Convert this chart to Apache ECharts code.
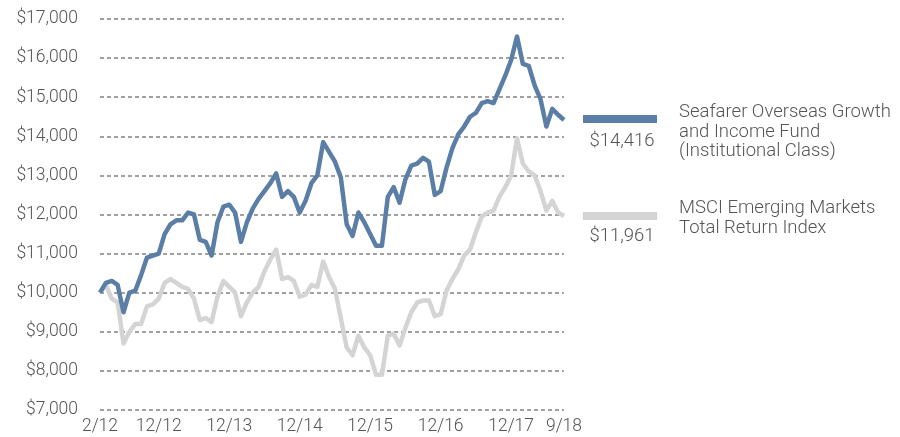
<!DOCTYPE html>
<html lang="en">
<head>
	<meta charset="UTF-8">
	<title>Growth of $10,000</title>
	<script src="https://cdn.jsdelivr.net/npm/echarts@6/dist/echarts.min.js"></script>
	<style>
		body{margin:0;background:#fff;}
	</style>
</head>
<body>
	<div id="app" style="width: 900px;height:437px"></div>

	<script>
		// monthly, 2/12 .. 9/18
		var months=[];
		for(var y=12;y<=18;y++){
			for(var m=1;m<=12;m++){
				if(y==12&&m<2) continue;
				if(y==18&&m>9) continue;
				months.push(m+"/"+y);
			}
		}
		var xTickLabels=["2/12","12/12","12/13","12/14","12/15","12/16","12/17","9/18"];
		var yTicks=[7000,8000,9000,10000,11000,12000,13000,14000,15000,16000,17000];

		var fundName="Seafarer Overseas Growth\nand Income Fund\n(Institutional Class)";
		var indexName="MSCI Emerging Markets\nTotal Return Index";

		var fundValues=[
			10000,10250,10300,10200,9500,10000,10050,10450,10900,10950,
			11000,11500,11750,11850,11850,12050,12000,11350,11300,10950,
			11800,12200,12250,12050,11300,11800,12150,12400,12600,12800,
			13050,12450,12600,12450,12050,12350,12800,13000,13850,13600,
			13350,12950,11750,11450,12050,11800,11500,11200,11200,12450,
			12700,12300,12900,13250,13300,13450,13350,12500,12600,13200,
			13700,14050,14250,14500,14600,14850,14900,14850,15200,15550,
			15950,16550,15850,15800,15300,14950,14250,14700,14550,14416
		];
		var indexValues=[
			10000,10200,9850,9750,8700,9000,9200,9200,9650,9700,
			9850,10250,10350,10250,10150,10100,9850,9300,9350,9250,
			9900,10300,10150,10000,9400,9750,10000,10150,10550,10850,
			11100,10350,10400,10300,9900,9950,10200,10150,10800,10400,
			10100,9350,8600,8400,8900,8600,8400,7900,7900,8900,
			8950,8650,9100,9500,9750,9800,9800,9400,9450,10050,
			10350,10600,10950,11100,11550,11950,12050,12100,12450,12700,
			13000,13950,13300,13100,13000,12600,12100,12350,12050,11961
		];

		var fundColor="#5b7ea6";
		var indexColor="#d4d4d4";
		var textColor="#555555";
		var font="Roboto";

		function dollars(v){
			return "$"+v.toLocaleString("en-US");
		}

		var myChart=echarts.init(document.getElementById('app'));
		var option={
			animation:false,
			textStyle:{fontFamily:font,fontWeight:300},
			grid:{left:100,right:336,top:19,bottom:27,containLabel:false},
			xAxis:{
				type:"category",
				boundaryGap:false,
				data:months,
				axisLine:{show:false},
				axisTick:{show:false},
				splitLine:{show:false},
				axisLabel:{
					interval:function(i,v){return xTickLabels.indexOf(v)>=0;},
					color:textColor,
					fontSize:17.5,
					fontWeight:300,
					margin:8
				}
			},
			yAxis:{
				type:"value",
				min:yTicks[0],
				max:yTicks[yTicks.length-1],
				interval:1000,
				axisLine:{show:false},
				axisTick:{show:false},
				axisLabel:{
					formatter:function(v){return dollars(v);},
					color:textColor,
					fontSize:17.5,
					fontWeight:300,
					margin:22
				},
				splitLine:{//dashed grid
					lineStyle:{color:"#a0a0a0",width:2,type:[4,3]}
				}
			},
			series:[
				{
					name:"MSCI",
					type:"line",
					data:indexValues,
					symbol:"none",
					lineStyle:{color:indexColor,width:4.5,join:"round"},
					z:2
				},
				{
					name:"Fund",
					type:"line",
					data:fundValues,
					symbol:"none",
					lineStyle:{color:fundColor,width:4.5,join:"round"},
					z:3
				}
			],
			graphic:[// legend on the right
				{type:"rect",left:583,top:115,shape:{width:74,height:8},style:{fill:fundColor}},
				{type:"text",x:622,y:141,style:{text:dollars(fundValues[fundValues.length-1]),fill:textColor,font:"300 18.5px "+font,align:"center",verticalAlign:"middle"}},
				{type:"text",x:679,y:103,style:{text:fundName,fill:textColor,font:"300 18.5px "+font,lineHeight:19.5,verticalAlign:"top"}},
				{type:"rect",left:583,top:212,shape:{width:74,height:8},style:{fill:indexColor}},
				{type:"text",x:622,y:236,style:{text:dollars(indexValues[indexValues.length-1]),fill:textColor,font:"300 18.5px "+font,align:"center",verticalAlign:"middle"}},
				{type:"text",x:679,y:199,style:{text:indexName,fill:textColor,font:"300 18.5px "+font,lineHeight:19.5,verticalAlign:"top"}}
			]
		};
		myChart.setOption(option);
	</script>
</body>
</html>
